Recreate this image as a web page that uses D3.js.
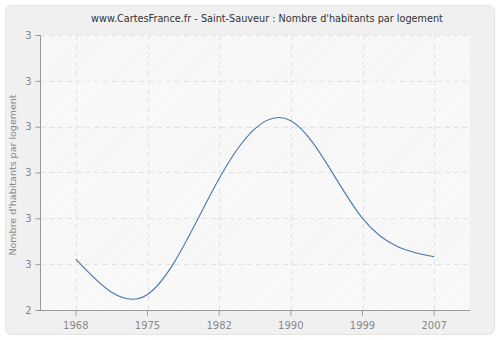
<!DOCTYPE html>
<html><head><meta charset="utf-8">
<script src="https://cdn.jsdelivr.net/npm/d3@7"></script>
<style>body{margin:0;background:#fff;}svg{display:block;font-family:"DejaVu Sans",Verdana,sans-serif;}</style>
</head><body><svg id="c" width="500" height="340"></svg>
<script>
const years = ["1968","1975","1982","1990","1999","2007"];
const values = [2.511, 2.434, 2.687, 2.813, 2.600, 2.516];
const yTicks = [2.4, 2.5, 2.6, 2.7, 2.8, 2.9, 3.0];
const yTickLabels = ["2","3","3","3","3","3","3"];
const title = "www.CartesFrance.fr - Saint-Sauveur : Nombre d'habitants par logement";
const yLabel = "Nombre d'habitants par logement";

const svg = d3.select("#c");
const m = {l:40, r:470, t:35, b:310};
svg.append("rect").attr("x",5.5).attr("y",5.5).attr("width",489).attr("height",329)
  .attr("rx",6).attr("fill","#f0f0f0").attr("stroke","#e4e4e4");

const defs = svg.append("defs");
function hatch(id, col){
  const p = defs.append("pattern").attr("id",id).attr("patternUnits","userSpaceOnUse")
    .attr("width",4).attr("height",4).attr("patternTransform","rotate(45)");
  p.append("rect").attr("width",4).attr("height",4).attr("fill","#f9f9f9");
  p.append("line").attr("x1",0).attr("y1",0).attr("x2",0).attr("y2",4).attr("stroke",col).attr("stroke-width",1);
}
hatch("h1","#ececec");
hatch("h2","#f3f3f3");

const x = d3.scaleBand().domain(years).range([m.l, m.r]).padding(0);
const y = d3.scaleLinear().domain([2.4, 3.0]).range([m.b, m.t]);

for (let i=0;i<yTicks.length-1;i++){
  const top = y(yTicks[i+1]), bot = y(yTicks[i]);
  const band = (yTicks.length-2-i)%2===0 ? "h1" : "h2";
  svg.append("rect").attr("x",m.l).attr("y",top).attr("width",m.r-m.l).attr("height",bot-top)
    .attr("fill","url(#"+band+")");
}

// grid
svg.append("g").selectAll("line").data(yTicks.slice(1)).join("line")
  .attr("x1",m.l).attr("x2",m.r).attr("y1",d=>Math.round(y(d))+0.5).attr("y2",d=>Math.round(y(d))+0.5)
  .attr("stroke","#e2e2e2").attr("stroke-dasharray","5,4");
svg.append("g").selectAll("line").data(years).join("line")
  .attr("y1",m.t).attr("y2",m.b).attr("x1",d=>Math.round(x(d)+x.bandwidth()/2)+0.5).attr("x2",d=>Math.round(x(d)+x.bandwidth()/2)+0.5)
  .attr("stroke","#e2e2e2").attr("stroke-dasharray","5,4");

// axes
const xAxis = svg.append("g").attr("transform",`translate(0,${m.b+0.5})`)
  .call(d3.axisBottom(x).tickSize(5).tickPadding(6));
const yAxis = svg.append("g").attr("transform",`translate(${m.l+0.5},0)`)
  .call(d3.axisLeft(y).tickValues(yTicks).tickFormat((d,i)=>yTickLabels[i]).tickSize(5).tickPadding(4));
[xAxis,yAxis].forEach(a=>{
  a.select(".domain").attr("stroke","#999").attr("stroke-width",1);
  a.selectAll(".tick line").attr("stroke","#999");
  a.selectAll("text").attr("fill","#888").attr("font-size",10).attr("font-family","DejaVu Sans, Verdana, sans-serif");
});
xAxis.select(".domain").attr("d",`M${m.l},0H${m.r}`);
yAxis.select(".domain").attr("d",`M0,${m.b}V${m.t}`);

// line
const line = d3.line().x((d,i)=>x(years[i])+x.bandwidth()/2).y(d=>y(d)).curve(d3.curveNatural);
svg.append("path").datum(values).attr("d",line).attr("fill","none").attr("stroke","#4a78a8").attr("stroke-width",1.1);

svg.append("text").attr("x",267).attr("y",22).attr("text-anchor","middle").attr("font-size",9.7)
  .attr("fill","#333").text(title);
svg.append("text").attr("transform","translate(16,175) rotate(-90)").attr("text-anchor","middle")
  .attr("font-size",9.5).attr("fill","#888").text(yLabel);
</script></body></html>
